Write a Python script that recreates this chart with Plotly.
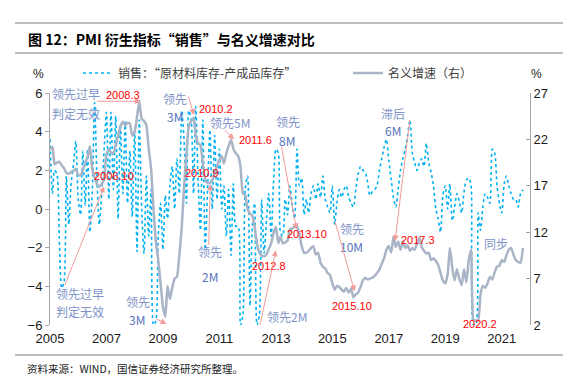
import plotly.graph_objects as go
from datetime import datetime

# ---------------- data ----------------
# 销售：原材料库存-产成品库存 (left axis, %), monthly from 2005-01
sales = [
    3.6, 0.8, 2.0, 1.8, -1.5, -4.1, -3.8, 1.7, -0.8, 1.3,
    2.3, 3.5, 0.5, -0.3, 3.0, 0.2, 3.1, -1.2, 0.8, 5.5,
    1.5, -0.8, 0.8, 3.0, 5.0, 0.5, 5.0, 1.0, 4.8, -0.5,
    4.3, 0.8, 4.5, 0.3, 3.0, -0.4, 4.1, -2.2, 4.6, 0.0,
    -2.3, 1.7, -1.4, 1.0, -6.0, -5.8, -1.4, 0.3, -2.1, 0.7,
    -0.5, 1.2, 2.2, 0.0, 2.6, 0.8, 5.1, 3.6, 0.3, 5.1,
    4.6, 0.8, 5.3, 1.5, -1.1, 4.6, -2.1, 1.0, 4.1, 0.0,
    3.8, 0.5, 3.1, 0.0, 1.2, -1.4, 1.0, -2.4, 1.3, -0.9,
    -0.9, -6.0, -5.5, 1.0, 1.7, -5.0, -1.0, 0.3, -6.0, -5.5,
    0.5, -2.3, -0.6, 0.8, -1.4, 1.3, 3.1, 2.9, -1.2, -1.4,
    0.5, -0.3, 1.2, 0.2, -0.5, 3.1, 1.2, 1.6, -0.3, 0.5,
    -0.2, 0.8, 1.2, 0.5, 1.3, 0.6, 1.7, 0.5, 0.1, -0.2,
    1.2, -0.8, 0.3, 1.0, 0.6, 1.0, 1.2, 0.6, 0.3, 0.1,
    1.0, 1.8, 2.2, 2.0, 1.9, 1.4, 0.7, 0.9, 1.0, 1.2,
    2.0, 2.6, 3.2, 3.6, 2.5, 1.5, 0.6, 0.1, 1.0, 2.0,
    2.6, 3.1, 3.8, 4.6, 2.9, 2.4, 2.0, 2.4, 2.6, 2.2,
    3.4, 2.4, 1.9, 1.2, 0.0, -0.5, -1.2, 0.7, 1.2, 0.0,
    1.3, -0.6, 0.1, 0.8, 0.4, -0.2, 0.9, 1.5, 1.6, 1.2,
    -6.0, -6.0, -0.2, -1.1, 0.1, 0.8, 0.6, 0.3, 3.1, 2.9,
    1.2, 0.3, -0.2, 1.3, 1.7, 1.2, 0.8, 0.5, 0.5, 0.1,
    0.8, 1.0,
]
# 名义增速 (right axis, %)
nominal = [
    20.9, 21.2, 19.3, 19.5, 19.6, 19.2, 18.9, 18.4, 18.3, 18.5,
    18.6, 18.8, 18.2, 18.1, 18.7, 19.4, 20.1, 21.3, 18.8, 17.9,
    17.2, 16.9, 17.2, 17.7, 20.4, 20.9, 20.6, 20.5, 21.4, 22.4,
    23.4, 23.9, 23.5, 23.8, 23.7, 22.4, 22.8, 24.5, 26.1, 24.2,
    24.0, 23.5, 21.0, 18.8, 14.5, 11.0, 9.0, 6.5, 4.0, 2.9,
    6.2, 4.8, 6.0, 7.0, 7.2, 9.5, 12.5, 16.9, 20.5, 23.4,
    24.0, 24.3, 22.5, 21.6, 21.4, 19.4, 17.7, 17.3, 17.3, 17.6,
    18.4, 19.1, 19.8, 20.2, 19.4, 20.5, 21.3, 22.0, 21.0, 20.5,
    20.2, 19.1, 16.2, 16.0, 14.5, 14.0, 13.8, 12.6, 10.8, 9.8,
    9.5, 9.4, 9.6, 10.2, 10.8, 11.9, 12.6, 10.8, 11.5, 10.8,
    10.9, 11.1, 12.3, 12.4, 12.6, 12.6, 11.8, 10.5, 9.8, 9.8,
    10.0, 10.3, 10.5, 9.6, 9.8, 8.7, 8.3, 8.1, 7.6, 7.4,
    6.5, 5.8, 6.2, 6.1, 5.8, 5.6, 6.0, 5.5, 5.9, 5.0,
    5.3, 5.5, 6.1, 6.8, 7.1, 6.9, 7.0, 7.1, 7.3, 7.6,
    8.0, 8.6, 9.2, 10.1, 10.5, 9.8, 11.5, 10.4, 11.0, 10.1,
    11.0, 10.3, 10.6, 10.0, 10.3, 10.1, 10.8, 11.4, 10.4, 10.0,
    9.7, 9.8, 9.0, 9.2, 8.9, 8.5, 7.6, 6.8, 6.5, 7.5,
    10.3, 8.2, 6.8, 8.0, 7.0, 6.3, 8.0, 6.6, 9.0, 10.1,
    2.5, 2.5, 2.5, 5.3, 6.2, 6.0, 6.5, 7.2, 6.9, 7.7,
    8.3, 8.4, 9.0, 8.8, 9.5, 10.1, 10.3, 9.6, 9.0, 8.8,
    8.7, 10.3,
]
months = [f"{2005 + i // 12}-{i % 12 + 1:02d}-01" for i in range(len(sales))]

left_ticks = [-6, -4, -2, 0, 2, 4, 6]
right_ticks = [2, 7, 12, 17, 22, 27]
name_sales = "销售：“原材料库存-产成品库存”"
name_nominal = "名义增速（右）"


def dy(y):
    """decimal year -> date string"""
    yr = int(y)
    d0 = datetime(yr, 1, 1)
    d1 = datetime(yr + 1, 1, 1)
    return (d0 + (d1 - d0) * (y - yr)).strftime("%Y-%m-%d %H:%M")


CJK = "Noto Sans CJK SC"
LAT = "Liberation Sans"
BLUE = "#7E93C8"
BLUE2 = "#5673BD"
RED = "#FF0000"
ARROW = "#F49A9A"

# text labels: (text, decimal-year x, y on left axis, colour, font, xanchor)
labels = [
    ("领先过早", 2005.035, 5.99, BLUE, CJK, "left"),
    ("判定无效", 2005.035, 4.95, BLUE, CJK, "left"),
    ("领先过早", 2005.18, -4.36, BLUE, CJK, "left"),
    ("判定无效", 2005.18, -5.31, BLUE, CJK, "left"),
    ("2006.10", 2007.27, 1.69, RED, LAT, "center"),
    ("2008.3", 2007.585, 5.88, RED, LAT, "center"),
    ("领先", 2008.117, -4.78, BLUE, CJK, "center"),
    ("3M", 2008.08, -5.71, BLUE2, CJK, "center"),
    ("2009.2", 2009.99, -6.12, RED, LAT, "center"),
    ("领先", 2009.43, 5.73, BLUE, CJK, "center"),
    ("3M", 2009.43, 4.80, BLUE2, CJK, "center"),
    ("2010.2", 2010.88, 5.18, RED, LAT, "center"),
    ("领先", 2010.68, -2.19, BLUE, CJK, "center"),
    ("2M", 2010.67, -3.48, BLUE2, CJK, "center"),
    ("2010.9", 2010.38, 1.85, RED, LAT, "center"),
    ("领先5M", 2011.375, 4.46, BLUE, CJK, "center"),
    ("2011.6", 2012.28, 3.55, RED, LAT, "center"),
    ("领先", 2013.43, 4.54, BLUE, CJK, "center"),
    ("8M", 2013.39, 3.55, BLUE2, CJK, "center"),
    ("2013.10", 2014.10, -1.31, RED, LAT, "center"),
    ("领先2M", 2013.39, -5.55, BLUE, CJK, "center"),
    ("2012.8", 2012.76, -2.96, RED, LAT, "center"),
    ("领先", 2015.68, -1.00, BLUE, CJK, "center"),
    ("10M", 2015.68, -1.93, BLUE2, CJK, "center"),
    ("2015.10", 2015.70, -5.03, RED, LAT, "center"),
    ("滞后", 2017.15, 4.95, BLUE, CJK, "center"),
    ("6M", 2017.15, 4.07, BLUE2, CJK, "center"),
    ("2017.3", 2018.03, -1.62, RED, LAT, "center"),
    ("同步", 2020.81, -1.77, BLUE, CJK, "center"),
    ("2020.2", 2020.23, -5.96, RED, LAT, "center"),
]

# arrows: (tail x, tail y, head x, head y) in decimal year / left axis units
arrows = [
    (2005.506, -4.00, 2006.92, 1.17),
    (2006.63, 5.57, 2008.22, 5.57),
    (2008.71, -5.65, 2009.13, -5.94),
    (2009.89, 5.88, 2010.10, 4.85),
    (2010.62, -1.93, 2010.68, 1.28),
    (2011.13, 4.17, 2011.52, 3.60),
    (2013.19, 3.30, 2013.73, -1.05),
    (2012.43, -6.07, 2013.00, -2.14),
    (2015.08, -0.57, 2015.79, -4.26),
    (2017.75, 4.69, 2017.22, -1.67),
]

# ---------------- figure ----------------
fig = go.Figure()
fig.add_trace(go.Scatter(
    x=months, y=sales, name=name_sales, mode="lines",
    line=dict(color="#00B0F0", width=1.6, dash="dot", shape="spline", smoothing=0.7),
    legend="legend", yaxis="y",
))
fig.add_trace(go.Scatter(
    x=months, y=nominal, name=name_nominal, mode="lines",
    line=dict(color="#A9B4C6", width=2.5, shape="spline", smoothing=0.5),
    legend="legend2", yaxis="y2",
))

xr = ["2005-01-01", "2022-01-01"]
AX = "#A6A6A6"
W, H = 572, 375
fig.update_layout(
    width=W, height=H,
    margin=dict(l=42, r=50, t=85, b=58, autoexpand=False),
    paper_bgcolor="white", plot_bgcolor="white",
    font=dict(family=LAT, size=13, color="#1a1a1a"),
    xaxis=dict(
        type="date", range=xr, tick0="2005-01-01", dtick="M24", tickformat="%Y",
        showline=False, showgrid=False, zeroline=False, ticks="",
        tickfont=dict(family=LAT, size=13, color="#1a1a1a"),
        ticklabelstandoff=4,
    ),
    xaxis2=dict(
        type="date", range=xr, tick0="2005-01-01", dtick="M24",
        overlaying="x", anchor="free", position=0.5,
        showline=True, linecolor="#999999", linewidth=1,
        ticks="outside", ticklen=4, tickcolor="#999999",
        showticklabels=False, showgrid=False, zeroline=False,
    ),
    yaxis=dict(
        range=[-6, 6], tickvals=left_ticks, showgrid=False, zeroline=False,
        showline=True, linecolor=AX, linewidth=1,
        ticks="outside", ticklen=4, tickcolor=AX,
        tickfont=dict(family=LAT, size=13, color="#1a1a1a"),
    ),
    yaxis2=dict(
        range=[2, 27], tickvals=right_ticks, overlaying="y", side="right",
        showgrid=False, zeroline=False,
        showline=True, linecolor=AX, linewidth=1,
        ticks="inside", ticklen=4, tickcolor=AX,
        tickfont=dict(family=LAT, size=13, color="#1a1a1a"),
    ),
    legend=dict(
        xref="container", yref="container",
        x=70 / W, y=1 - 65 / H, xanchor="left", yanchor="middle", orientation="h",
        bgcolor="rgba(0,0,0,0)", font=dict(family=CJK, size=12, color="#404040"),
    ),
    legend2=dict(
        xref="container", yref="container",
        x=340 / W, y=1 - 65 / H, xanchor="left", yanchor="middle", orientation="h",
        bgcolor="rgba(0,0,0,0)", font=dict(family=CJK, size=12, color="#404040"),
    ),
    showlegend=True,
)

anns = []
for t, x, y, c, f, xa in labels:
    anns.append(dict(
        text=t, x=dy(x), y=y, xref="x", yref="y", showarrow=False,
        xanchor=xa, yanchor="middle", borderpad=0,
        font=dict(family=f, size=12 if f == CJK else 11, color=c),
    ))
for tx, ty, hx, hy in arrows:
    anns.append(dict(
        text="", x=dy(hx), y=hy, ax=dy(tx), ay=ty, xref="x", yref="y",
        axref="x", ayref="y", showarrow=True,
        arrowhead=2, arrowsize=1.2, arrowwidth=1, arrowcolor=ARROW,
    ))
# title, units, source
anns += [
    dict(text="<b>图 12：PMI 衍生指标“销售”与名义增速对比</b>", xref="paper", yref="paper",
         x=(18 - 42) / 480, y=(317 - 31) / 232, xanchor="left", yanchor="middle",
         showarrow=False, font=dict(family=CJK, size=14, color="#000000")),
    dict(text="%", xref="paper", yref="paper", x=(30 - 42) / 480, y=(317 - 66) / 232,
         xanchor="center", yanchor="middle", showarrow=False,
         font=dict(family=LAT, size=12, color="#1a1a1a")),
    dict(text="%", xref="paper", yref="paper", x=(528 - 42) / 480, y=(317 - 66) / 232,
         xanchor="center", yanchor="middle", showarrow=False,
         font=dict(family=LAT, size=12, color="#1a1a1a")),
    dict(text="资料来源：WIND，国信证券经济研究所整理。", xref="paper", yref="paper",
         x=(17 - 42) / 480, y=(317 - 360) / 232, xanchor="left", yanchor="middle",
         showarrow=False, font=dict(family=CJK, size=10.5, color="#1a1a1a")),
]
fig.update_layout(annotations=anns)

# rule lines of the report frame
for py in (15, 45, 347):
    fig.add_shape(type="line", xref="paper", yref="paper",
                  x0=(7 - 42) / 480, x1=(555 - 42) / 480,
                  y0=(317 - py) / 232, y1=(317 - py) / 232,
                  line=dict(color="#A6A6A6", width=1.5))

fig.write_html("out.html")
